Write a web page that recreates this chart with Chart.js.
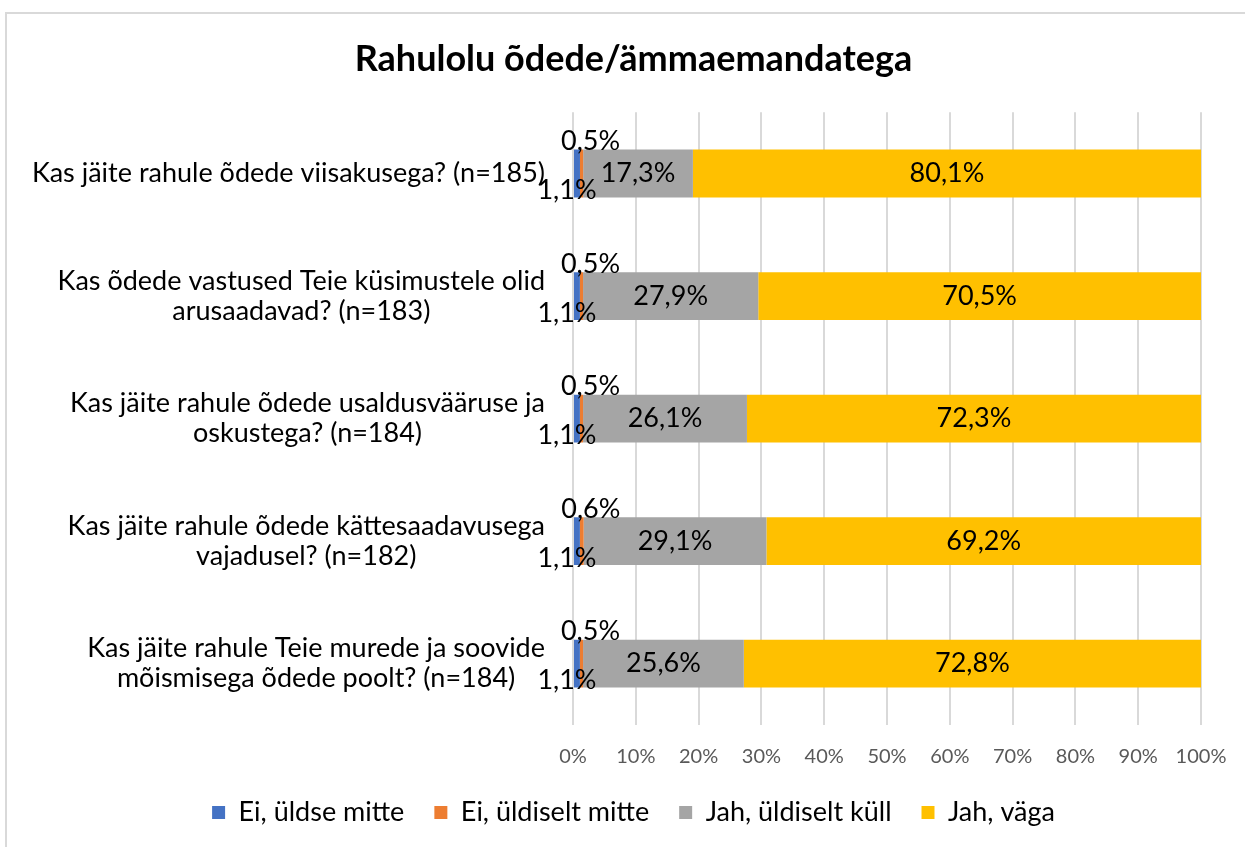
<!DOCTYPE html>
<html>
<head>
<meta charset="utf-8">
<script src="https://cdn.jsdelivr.net/npm/chart.js@4.4.1/dist/chart.umd.min.js"></script>
<style>
  html, body { margin: 0; padding: 0; background: #fff; overflow: hidden; }
  #wrap {
    position: absolute; left: 5px; top: 12px;
    width: 1260px; height: 850px;
    border-left: 2px solid #d9d9d9; border-top: 2px solid #d9d9d9;
  }
  #chart { position: absolute; left: 0; top: 0; }
</style>
</head>
<body>
<div id="wrap"><canvas id="chart" width="1253" height="833"></canvas></div>
<script>
// chart data
const categories = [
  ["Kas jäite rahule õdede viisakusega? (n=185)"],
  ["Kas õdede vastused Teie küsimustele olid", "arusaadavad? (n=183)"],
  ["Kas jäite rahule õdede usaldusvääruse ja", "oskustega? (n=184)"],
  ["Kas jäite rahule õdede kättesaadavusega", "vajadusel? (n=182)"],
  ["Kas jäite rahule Teie murede ja soovide", "mõismisega õdede poolt? (n=184)"],
];
const seriesNames = ["Ei, üldse mitte", "Ei, üldiselt mitte", "Jah, üldiselt küll", "Jah, väga"];
const eiUldseMitte = [1.1, 1.1, 1.1, 1.1, 1.1];
const eiUldiseltMitte = [0.5, 0.5, 0.5, 0.6, 0.5];
const jahUldiseltKull = [17.3, 27.9, 26.1, 29.1, 25.6];
const jahVaga = [80.1, 70.5, 72.3, 69.2, 72.8];
const xTicks = [0, 10, 20, 30, 40, 50, 60, 70, 80, 90, 100];

const colors = ["#4472c4", "#ed7d31", "#a5a5a5", "#ffc000"];
const FONT = "Lato";

const series = [eiUldseMitte, eiUldiseltMitte, jahUldiseltKull, jahVaga];
// 100% stacked: every row is scaled to its own total
const totals = categories.map((c, i) => series.reduce((s, arr) => s + arr[i], 0));

const fmt = (v) => v.toFixed(1).replace(".", ",") + "%";

// category labels: block right aligned, lines centred inside it
const catLabels = {
  id: "catLabels",
  afterDraw(chart) {
    const { ctx } = chart;
    const yScale = chart.scales.y;
    const right = chart.chartArea.left - 28;
    const lineH = 30;
    ctx.save();
    ctx.font = "27px " + FONT;
    ctx.fillStyle = "#000";
    ctx.textAlign = "center";
    ctx.textBaseline = "middle";
    categories.forEach((lines, i) => {
      const y = yScale.getPixelForTick(i);
      const widest = Math.max(...lines.map((l) => ctx.measureText(l).width));
      const cx = right - widest / 2;
      lines.forEach((line, j) => {
        ctx.fillText(line, cx, y + (j - (lines.length - 1) / 2) * lineH);
      });
    });
    ctx.restore();
  },
};

// value labels on the bars
const valueLabels = {
  id: "valueLabels",
  afterDatasetsDraw(chart) {
    const { ctx } = chart;
    ctx.save();
    ctx.font = "27px " + FONT;
    ctx.fillStyle = "#000";
    ctx.textAlign = "center";
    ctx.textBaseline = "middle";
    chart.data.datasets.forEach((ds, d) => {
      const meta = chart.getDatasetMeta(d);
      meta.data.forEach((bar, i) => {
        const cx = (bar.x + bar.base) / 2;
        let x = cx;
        let y = bar.y;
        if (d === 0) {
          x = cx - 10;
          y = bar.y + 17;
        } else if (d === 1) {
          x = cx + 9;
          y = bar.y - 32;
        }
        ctx.fillText(fmt(series[d][i]), x, y);
      });
    });
    ctx.restore();
  },
};

const ctx = document.getElementById("chart").getContext("2d");
new Chart(ctx, {
  type: "bar",
  data: {
    labels: categories,
    datasets: series.map((arr, i) => ({
      label: seriesNames[i],
      data: arr.map((v, j) => (v / totals[j]) * 100),
      backgroundColor: colors[i],
      borderWidth: 0,
      categoryPercentage: 1,
      barPercentage: 0.39,
    })),
  },
  options: {
    indexAxis: "y",
    responsive: false,
    animation: false,
    devicePixelRatio: 1,
    layout: { padding: { left: 59, right: 59, top: 0, bottom: 11 } },
    scales: {
      x: {
        stacked: true,
        min: 0,
        max: 100,
        afterBuildTicks: (scale) => {
          scale.ticks = xTicks.map((v) => ({ value: v }));
        },
        afterFit: (scale) => {
          scale.height = 44;
        },
        grid: { color: "#d9d9d9", lineWidth: 2, drawTicks: false },
        border: { display: false },
        ticks: {
          padding: 20,
          color: "#595959",
          font: { family: FONT, size: 20 },
          callback: (v) => v + "%",
        },
      },
      y: {
        stacked: true,
        afterFit: (scale) => {
          scale.width = 507;
        },
        grid: { display: false },
        border: { display: false },
        ticks: { display: false },
      },
    },
    plugins: {
      title: {
        display: true,
        text: "Rahulolu õdede/ämmaemandatega",
        color: "#000",
        font: { family: FONT, size: 36, weight: "bold" },
        padding: { top: 24, bottom: 31 },
      },
      legend: {
        position: "bottom",
        labels: {
          boxWidth: 13,
          boxHeight: 13,
          padding: 30,
          color: "#000",
          font: { family: FONT, size: 27 },
        },
      },
      tooltip: { enabled: false },
    },
  },
  plugins: [catLabels, valueLabels],
});
</script>
</body>
</html>
